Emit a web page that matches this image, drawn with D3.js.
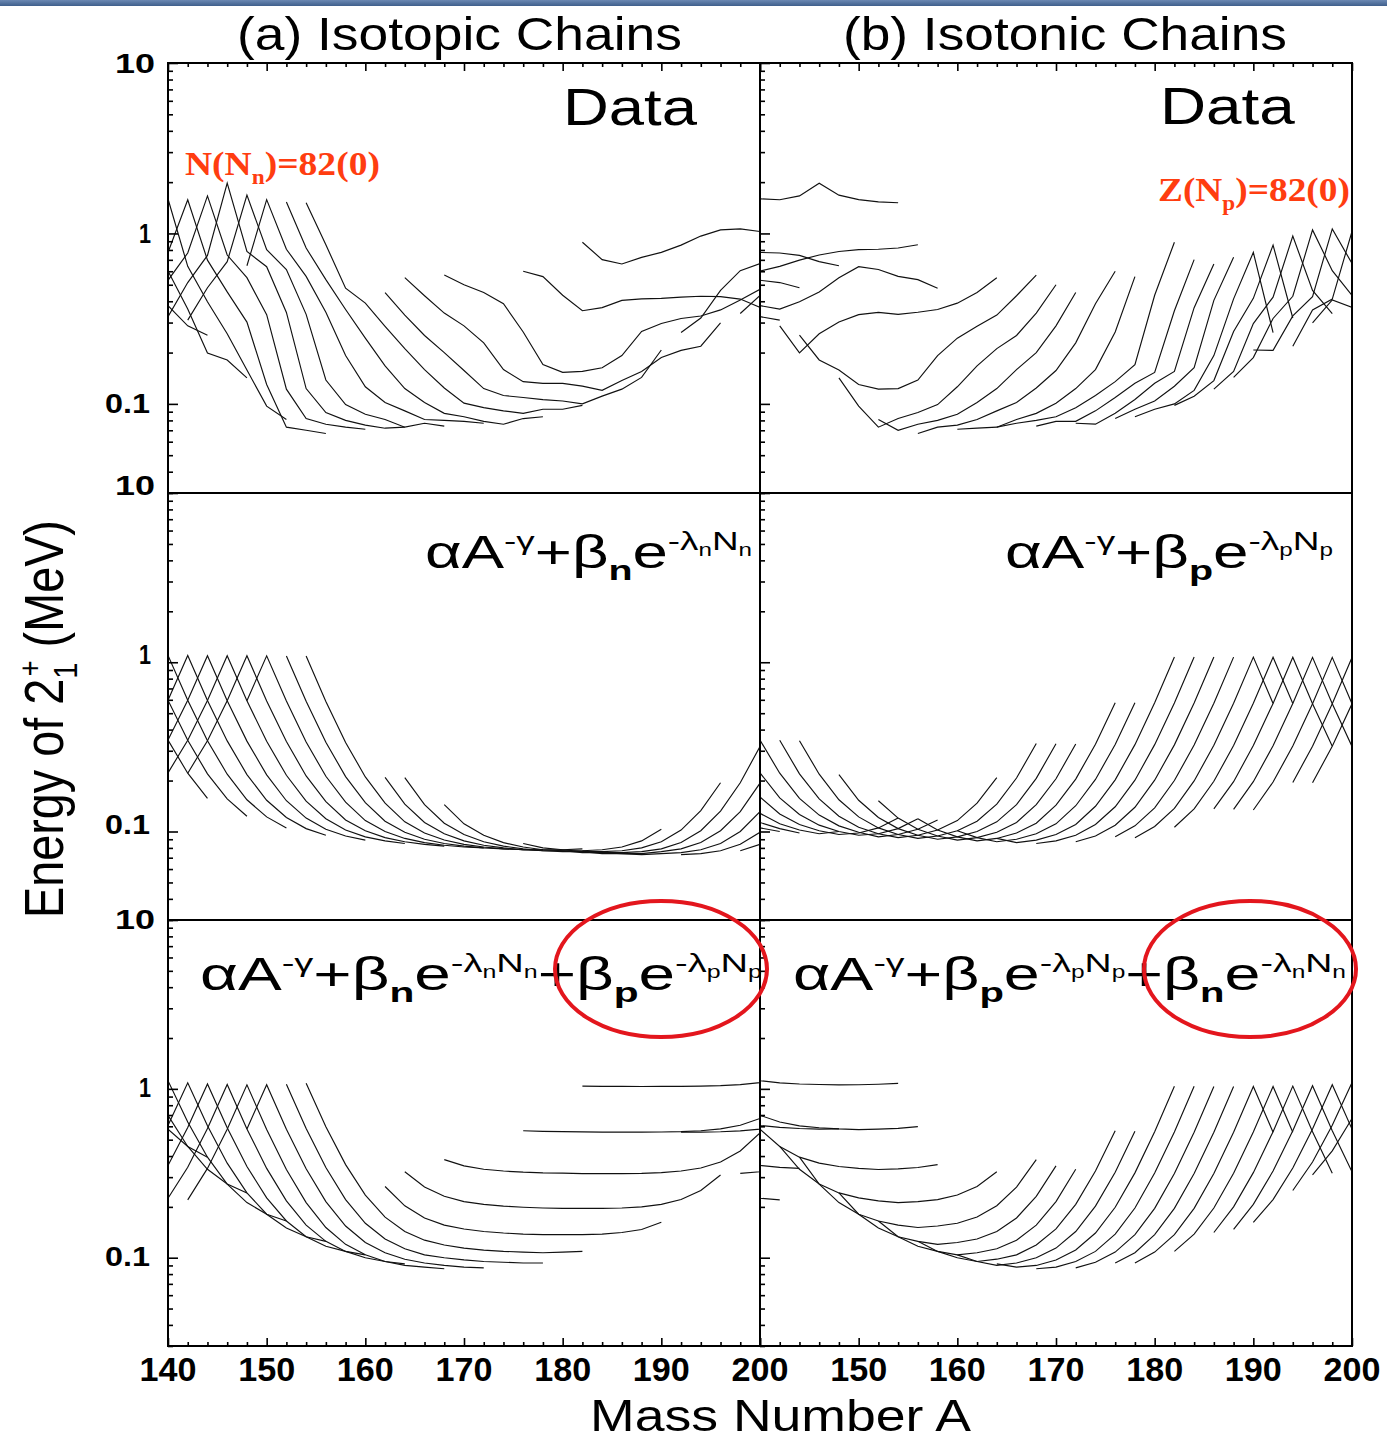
<!DOCTYPE html>
<html>
<head>
<meta charset="utf-8">
<script src="https://cdn.jsdelivr.net/npm/d3@7"></script>
<style>
  body { margin: 0; background: #fff; }
  svg { display: block; }
</style>
</head>
<body>
<svg id="chart" width="1387" height="1440"></svg>
<script>
// ---------------------------------------------------------------------------
// Energies of the first 2+ state of even-even nuclei (MeV).
// One row per element (proton number Z); a row starts at mass number
// chainFirstA and steps by 2 in A (so N = A - Z steps by 2 as well).
// ---------------------------------------------------------------------------
const chainZ      = [54, 56, 58, 60, 62, 64, 66, 68, 70, 72, 74, 76, 78, 80, 82, 84, 86];
const chainFirstA = [136, 136, 136, 136, 138, 140, 142, 148, 152, 154, 162, 164, 168, 176, 182, 192, 198];

// measured values
const measuredE = [
  [1.313, 0.589, 0.377, 0.287, 0.253],
  [0.819, 1.436, 0.602, 0.360, 0.199, 0.181, 0.142],
  [0.552, 0.789, 1.596, 0.641, 0.397, 0.258, 0.158, 0.097, 0.081],
  [0.374, 0.521, 0.774, 1.576, 0.697, 0.454, 0.302, 0.130, 0.073, 0.070, 0.067],
  [0.347, 0.531, 0.768, 1.660, 0.747, 0.550, 0.334, 0.122, 0.082, 0.076, 0.073, 0.071],
  [0.325, 0.515, 0.743, 1.972, 0.784, 0.638, 0.344, 0.123, 0.089, 0.080, 0.075, 0.072, 0.073],
  [0.310, 0.480, 0.683, 1.678, 0.803, 0.614, 0.335, 0.138, 0.099, 0.087, 0.081, 0.073, 0.077, 0.074],
  [0.646, 1.579, 0.808, 0.560, 0.345, 0.192, 0.126, 0.102, 0.091, 0.081, 0.080, 0.079, 0.077],
  [1.531, 0.821, 0.536, 0.358, 0.243, 0.167, 0.123, 0.102, 0.088, 0.084, 0.079, 0.076, 0.082, 0.084],
  [1.513, 0.858, 0.477, 0.390, 0.285, 0.211, 0.159, 0.124, 0.101, 0.095, 0.091, 0.088, 0.093, 0.093, 0.098],
  [0.450, 0.332, 0.252, 0.200, 0.157, 0.123, 0.112, 0.109, 0.106, 0.104, 0.100, 0.111, 0.122, 0.143, 0.207],
  [0.550, 0.431, 0.341, 0.287, 0.228, 0.159, 0.135, 0.132, 0.132, 0.127, 0.120, 0.137, 0.155, 0.187, 0.206, 0.218, 0.299],
  [0.570, 0.500, 0.450, 0.387, 0.264, 0.170, 0.153, 0.155, 0.163, 0.192, 0.266, 0.296, 0.317, 0.328, 0.356, 0.407, 0.470],
  [0.600, 0.558, 0.434, 0.352, 0.367, 0.405, 0.413, 0.416, 0.423, 0.428, 0.426, 0.412, 0.368, 0.440],
  [0.888, 0.702, 0.662, 0.724, 0.774, 0.854, 0.965, 1.049, 1.064, 1.027, 0.961],
  [0.262, 0.319, 0.463, 0.605, 0.666, 0.677],
  [0.339, 0.433, 0.504]
];

// fit with the mass term and the valence-neutron term only
const fitNeutronE = [
  [1.100, 0.599, 0.347, 0.221, 0.157],
  [0.600, 1.099, 0.597, 0.346, 0.219, 0.156, 0.123],
  [0.350, 0.599, 1.097, 0.596, 0.344, 0.218, 0.154, 0.122, 0.105],
  [0.225, 0.349, 0.597, 1.096, 0.594, 0.343, 0.217, 0.153, 0.121, 0.104, 0.095],
  [0.224, 0.347, 0.596, 1.094, 0.593, 0.342, 0.216, 0.152, 0.120, 0.103, 0.094, 0.089],
  [0.222, 0.346, 0.594, 1.093, 0.592, 0.341, 0.215, 0.151, 0.119, 0.102, 0.093, 0.088, 0.085],
  [0.221, 0.344, 0.593, 1.092, 0.591, 0.340, 0.213, 0.150, 0.117, 0.101, 0.092, 0.087, 0.084, 0.082],
  [0.592, 1.091, 0.590, 0.338, 0.212, 0.149, 0.116, 0.100, 0.091, 0.086, 0.083, 0.081, 0.080],
  [1.090, 0.588, 0.337, 0.211, 0.148, 0.115, 0.099, 0.090, 0.085, 0.082, 0.080, 0.079, 0.078, 0.078],
  [1.088, 0.587, 0.336, 0.210, 0.147, 0.114, 0.098, 0.089, 0.084, 0.081, 0.079, 0.078, 0.078, 0.078, 0.079],
  [0.209, 0.145, 0.113, 0.097, 0.088, 0.083, 0.080, 0.078, 0.077, 0.077, 0.077, 0.078, 0.081, 0.088, 0.103],
  [0.208, 0.144, 0.112, 0.096, 0.087, 0.082, 0.079, 0.077, 0.076, 0.076, 0.076, 0.077, 0.080, 0.087, 0.102, 0.133, 0.194],
  [0.144, 0.111, 0.095, 0.086, 0.081, 0.078, 0.077, 0.075, 0.075, 0.075, 0.076, 0.079, 0.086, 0.101, 0.132, 0.194, 0.318],
  [0.085, 0.080, 0.078, 0.076, 0.074, 0.074, 0.074, 0.076, 0.079, 0.086, 0.101, 0.131, 0.193, 0.317],
  [0.077, 0.075, 0.074, 0.073, 0.074, 0.075, 0.078, 0.085, 0.100, 0.131, 0.192],
  [0.073, 0.074, 0.077, 0.084, 0.099, 0.130],
  [0.077, 0.084, 0.099]
];

// fit with the mass term and the valence-proton term only
const fitProtonE = [
  [0.350, 0.349, 0.347, 0.346, 0.344],
  [0.225, 0.224, 0.222, 0.221, 0.219, 0.218, 0.217],
  [0.163, 0.161, 0.160, 0.158, 0.157, 0.156, 0.154, 0.153, 0.152],
  [0.131, 0.130, 0.128, 0.127, 0.126, 0.125, 0.123, 0.122, 0.121, 0.120, 0.119],
  [0.114, 0.113, 0.111, 0.110, 0.109, 0.108, 0.106, 0.105, 0.104, 0.103, 0.102, 0.101],
  [0.105, 0.104, 0.102, 0.101, 0.100, 0.099, 0.097, 0.096, 0.095, 0.094, 0.093, 0.092, 0.091],
  [0.100, 0.098, 0.097, 0.096, 0.095, 0.093, 0.092, 0.091, 0.090, 0.089, 0.088, 0.087, 0.086, 0.085],
  [0.100, 0.098, 0.097, 0.096, 0.095, 0.094, 0.093, 0.092, 0.091, 0.090, 0.089, 0.088, 0.087],
  [0.105, 0.104, 0.103, 0.102, 0.101, 0.100, 0.099, 0.098, 0.097, 0.096, 0.095, 0.094, 0.093, 0.092],
  [0.120, 0.119, 0.117, 0.116, 0.115, 0.114, 0.113, 0.112, 0.111, 0.110, 0.110, 0.109, 0.108, 0.107, 0.106],
  [0.147, 0.145, 0.144, 0.144, 0.143, 0.142, 0.141, 0.140, 0.139, 0.138, 0.137, 0.136, 0.136, 0.135, 0.134],
  [0.208, 0.207, 0.206, 0.205, 0.204, 0.203, 0.202, 0.201, 0.201, 0.200, 0.199, 0.198, 0.197, 0.197, 0.196, 0.195, 0.194],
  [0.331, 0.330, 0.329, 0.328, 0.327, 0.326, 0.326, 0.325, 0.324, 0.323, 0.322, 0.322, 0.321, 0.320, 0.319, 0.319, 0.318],
  [0.577, 0.576, 0.576, 0.575, 0.574, 0.573, 0.572, 0.572, 0.571, 0.570, 0.569, 0.569, 0.568, 0.567],
  [1.075, 1.074, 1.073, 1.072, 1.072, 1.071, 1.070, 1.069, 1.069, 1.068, 1.067],
  [0.571, 0.570, 0.569, 0.569, 0.568, 0.567],
  [0.319, 0.318, 0.317]
];

// fit with the mass term plus both valence terms
const fitBothE = [
  [1.300, 0.819, 0.577, 0.456, 0.394],
  [0.700, 1.179, 0.697, 0.456, 0.334, 0.273, 0.242],
  [0.400, 0.639, 1.117, 0.636, 0.394, 0.273, 0.212, 0.181, 0.165],
  [0.250, 0.369, 0.607, 1.086, 0.604, 0.363, 0.242, 0.181, 0.150, 0.133, 0.125],
  [0.234, 0.352, 0.591, 1.069, 0.588, 0.347, 0.226, 0.165, 0.133, 0.117, 0.109, 0.104],
  [0.225, 0.343, 0.582, 1.061, 0.579, 0.338, 0.217, 0.156, 0.125, 0.109, 0.100, 0.095, 0.092],
  [0.220, 0.338, 0.577, 1.056, 0.574, 0.333, 0.212, 0.151, 0.120, 0.104, 0.095, 0.090, 0.088, 0.086],
  [0.579, 1.058, 0.577, 0.336, 0.215, 0.154, 0.123, 0.107, 0.098, 0.093, 0.090, 0.088, 0.087],
  [1.065, 0.583, 0.342, 0.221, 0.160, 0.129, 0.113, 0.104, 0.100, 0.097, 0.095, 0.094, 0.093, 0.093],
  [1.078, 0.597, 0.356, 0.235, 0.174, 0.143, 0.127, 0.119, 0.114, 0.111, 0.109, 0.108, 0.107, 0.108, 0.109],
  [0.264, 0.203, 0.172, 0.156, 0.148, 0.143, 0.140, 0.138, 0.137, 0.137, 0.137, 0.138, 0.141, 0.147, 0.162],
  [0.323, 0.262, 0.231, 0.215, 0.207, 0.202, 0.199, 0.197, 0.196, 0.196, 0.196, 0.197, 0.200, 0.207, 0.221, 0.250, 0.309],
  [0.381, 0.350, 0.334, 0.326, 0.321, 0.318, 0.317, 0.315, 0.315, 0.315, 0.316, 0.319, 0.326, 0.340, 0.369, 0.429, 0.548],
  [0.565, 0.560, 0.558, 0.556, 0.554, 0.554, 0.554, 0.555, 0.558, 0.565, 0.579, 0.609, 0.668, 0.787],
  [1.037, 1.035, 1.034, 1.033, 1.034, 1.034, 1.038, 1.044, 1.059, 1.088, 1.147],
  [0.553, 0.554, 0.557, 0.564, 0.578, 0.607],
  [0.316, 0.323, 0.337]
];

// axis ticks and labels
const xTickLabelsLeft  = [140, 150, 160, 170, 180, 190, 200];
const xTickLabelsRight = [150, 160, 170, 180, 190, 200];
const yTickLabels      = [[10, "10"], [1, "1"], [0.1, "0.1"]];

// ---------------------------------------------------------------------------
const FONT  = "'Liberation Sans', Arial, Helvetica, sans-serif";
const SERIF = "'Liberation Serif', 'Times New Roman', serif";
const RED_TEXT = "#ff3d10";
const RED_RING = "#e3161d";

const colLeft = [168, 760], colWidth = 592;
const rowBounds = [[63, 493], [493, 920], [920, 1346]];

const svg = d3.select("#chart");
svg.append("rect").attr("width", 1387).attr("height", 1440).attr("fill", "#fff");

// thin banner along the top edge
const defs = svg.append("defs");
const grad = defs.append("linearGradient")
  .attr("id", "banner").attr("x1", 0).attr("y1", 0).attr("x2", 0).attr("y2", 1);
grad.append("stop").attr("offset", "0%").attr("stop-color", "#6b88b3");
grad.append("stop").attr("offset", "100%").attr("stop-color", "#3f5f8c");
svg.append("rect").attr("width", 1387).attr("height", 6).attr("fill", "url(#banner)");

const xScales = colLeft.map(x0 => d3.scaleLinear().domain([140, 200]).range([x0, x0 + colWidth]));
const yScales = rowBounds.map(([t, b]) => d3.scaleLog().domain([0.03, 10]).range([b, t]));

// flatten a table into nuclei
function nuclei(table) {
  const out = [];
  table.forEach((vals, i) => vals.forEach((e, k) => {
    const A = chainFirstA[i] + 2 * k;
    out.push({ Z: chainZ[i], N: A - chainZ[i], A, E: e });
  }));
  return out;
}
const isotopic = table => d3.groups(nuclei(table), d => d.Z).map(([, v]) => v.sort((a, b) => a.A - b.A));
const isotonic = table => d3.groups(nuclei(table), d => d.N).map(([, v]) => v.sort((a, b) => a.A - b.A));

const panels = [
  { r: 0, c: 0, chains: isotopic(measuredE) },
  { r: 0, c: 1, chains: isotonic(measuredE) },
  { r: 1, c: 0, chains: isotopic(fitNeutronE) },
  { r: 1, c: 1, chains: isotonic(fitProtonE) },
  { r: 2, c: 0, chains: isotopic(fitBothE) },
  { r: 2, c: 1, chains: isotonic(fitBothE) }
];

panels.forEach((p, i) => {
  const xs = xScales[p.c], ys = yScales[p.r];
  const [top, bottom] = rowBounds[p.r];
  defs.append("clipPath").attr("id", "clip" + i).append("rect")
    .attr("x", xs.range()[0]).attr("y", top)
    .attr("width", colWidth).attr("height", bottom - top);
  const line = d3.line().x(d => xs(d.A)).y(d => ys(d.E));
  svg.append("g").attr("clip-path", `url(#clip${i})`)
    .selectAll("path").data(p.chains).join("path")
    .attr("d", line)
    .attr("fill", "none").attr("stroke", "#111").attr("stroke-width", 1.15)
    .attr("stroke-linejoin", "miter");
});

// ---- ticks ---------------------------------------------------------------
const minorY = [];
[0.01, 0.1, 1].forEach(dec => d3.range(2, 10).forEach(m => {
  const v = +(m * dec).toPrecision(3);
  if (v >= 0.03 && v < 10) minorY.push(v);
}));
const majorY = [0.1, 1, 10];

function styleAxis(g) {
  g.select(".domain").remove();
  g.selectAll(".tick line").attr("stroke", "#000").attr("stroke-width", 1.6);
  g.selectAll(".tick text").remove();
}

yScales.forEach(ys => {
  colLeft.forEach(x0 => {
    svg.append("g").attr("transform", `translate(${x0},0)`)
      .call(d3.axisRight(ys).tickValues(minorY).tickSize(5).tickFormat(""))
      .call(styleAxis);
    svg.append("g").attr("transform", `translate(${x0},0)`)
      .call(d3.axisRight(ys).tickValues(majorY).tickSize(10).tickFormat(""))
      .call(styleAxis);
  });
});

const minorX = d3.range(140, 201, 2).filter(v => v % 10 !== 0);
const majorX = d3.range(140, 201, 10);
xScales.forEach(xs => {
  const yb = rowBounds[2][1], yt = rowBounds[0][0];
  svg.append("g").attr("transform", `translate(0,${yb})`)
    .call(d3.axisTop(xs).tickValues(minorX).tickSize(4).tickFormat("")).call(styleAxis);
  svg.append("g").attr("transform", `translate(0,${yb})`)
    .call(d3.axisTop(xs).tickValues(majorX).tickSize(8).tickFormat("")).call(styleAxis);
  svg.append("g").attr("transform", `translate(0,${yt})`)
    .call(d3.axisBottom(xs).tickValues(minorX).tickSize(4).tickFormat("")).call(styleAxis);
  svg.append("g").attr("transform", `translate(0,${yt})`)
    .call(d3.axisBottom(xs).tickValues(majorX).tickSize(8).tickFormat("")).call(styleAxis);
});

// ---- panel frames --------------------------------------------------------
panels.forEach(p => {
  const [top, bottom] = rowBounds[p.r];
  svg.append("rect")
    .attr("x", colLeft[p.c]).attr("y", top)
    .attr("width", colWidth).attr("height", bottom - top)
    .attr("fill", "none").attr("stroke", "#000").attr("stroke-width", 2);
});

// ---- text helpers --------------------------------------------------------
// place a text so that its ink spans [x, x+width] horizontally
function fit(t, x, y, width) {
  const bb = t.node().getBBox();
  const sx = width / bb.width;
  t.attr("transform", `translate(${x - bb.x * sx},${y}) scale(${sx},1)`);
  return t;
}
const LEVEL = { base: [0, 1], sup: [-0.40, 0.58], sub: [0.26, 0.62], supsub: [-0.27, 0.38] };
function rich(parts, size, family, extra) {
  const t = svg.append("text").attr("font-family", family).attr("font-size", size);
  if (extra) extra(t);
  let cur = 0;
  parts.forEach(([txt, lvl, bold, dx]) => {
    const [off, scale] = LEVEL[lvl];
    const target = off * size;
    const s = t.append("tspan").attr("dy", (target - cur).toFixed(2))
      .attr("font-size", (scale * size).toFixed(2)).text(txt);
    if (bold) s.attr("font-weight", "bold");
    if (dx) s.attr("dx", dx);
    cur = target;
  });
  return t;
}
function plain(str, size, family, weight, fill) {
  return svg.append("text").attr("font-family", family).attr("font-size", size)
    .attr("font-weight", weight || "normal").attr("fill", fill || "#000").text(str);
}

// column titles
fit(plain("(a) Isotopic Chains", 46, FONT), 237, 50, 445);
fit(plain("(b) Isotonic Chains", 46, FONT), 843, 50, 444);

// "Data" headers
fit(plain("Data", 52, FONT), 563, 125, 134);
fit(plain("Data", 52, FONT), 1160, 124, 135);

// closed-shell markers
fit(rich([["N(N", "base"], ["n", "sub"], [")=82(0)", "base"]], 34, SERIF,
  t => t.attr("font-weight", "bold").attr("fill", RED_TEXT)), 185, 175, 195);
fit(rich([["Z(N", "base"], ["p", "sub"], [")=82(0)", "base"]], 34, SERIF,
  t => t.attr("font-weight", "bold").attr("fill", RED_TEXT)), 1158, 201, 192);

// model expressions
const termN = [["+β", "base"], ["n", "sub", true], ["e", "base"], ["-λ", "sup"], ["n", "supsub"], ["N", "sup"], ["n", "supsub"]];
const termP = [["+β", "base"], ["p", "sub", true], ["e", "base"], ["-λ", "sup"], ["p", "supsub"], ["N", "sup"], ["p", "supsub"]];
const massTerm = [["αA", "base"], ["-γ", "sup"]];

fit(rich(massTerm.concat(termN), 46, FONT), 425, 568, 327);
fit(rich(massTerm.concat(termP), 46, FONT), 1005, 568, 328);
fit(rich(massTerm.concat(termN, termP), 46, FONT), 200, 990, 562);
fit(rich(massTerm.concat(termP, termN), 46, FONT), 793, 990, 553);

// highlighted extra term
[[661, 969], [1250, 969]].forEach(([cx, cy]) => {
  svg.append("ellipse").attr("cx", cx).attr("cy", cy).attr("rx", 106).attr("ry", 68)
    .attr("fill", "none").attr("stroke", RED_RING).attr("stroke-width", 4);
});

// tick labels
[[xTickLabelsLeft, xScales[0]], [xTickLabelsRight, xScales[1]]].forEach(([vals, xs]) => {
  vals.forEach(v => {
    const t = plain(String(v), 33, FONT, "bold");
    const w = 57;
    fit(t, xs(v) - w / 2, 1381, w);
  });
});
const yLabelOffset = [9.5, 2, 8.5];
const yLabelBox = { "10": [115, 40], "1": [139, 12], "0.1": [105, 45] };
yScales.forEach((ys, r) => {
  yTickLabels.forEach(([v, s]) => {
    const t = plain(s, 27, FONT, "bold");
    const [x0, w] = yLabelBox[s];
    fit(t, x0, ys(v) + yLabelOffset[r], w);
  });
});

// axis titles
fit(plain("Mass Number A", 44, FONT), 590, 1431, 382);

const ylab = rich([["Energy of 2", "base"], ["1", "sub"], ["+", "sup", false, -16], [" (MeV)", "base"]], 55, FONT);
{
  const bb = ylab.node().getBBox();
  const len = 398, sx = len / bb.width;
  ylab.attr("transform", `translate(63,${918 + bb.x * sx}) rotate(-90) scale(${sx},1)`);
}
</script>
</body>
</html>
